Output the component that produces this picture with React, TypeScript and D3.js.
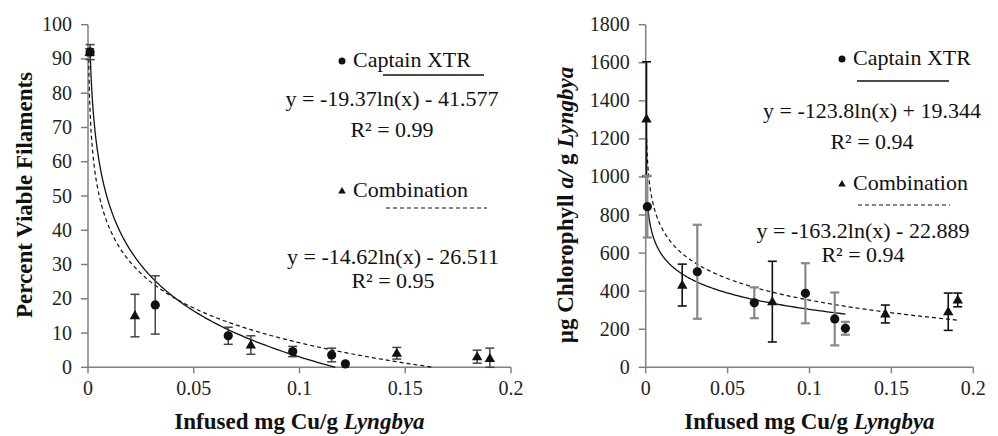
import React from 'react';
import * as d3 from 'd3';

// x axis (shared)
const xTicks = [0, 0.05, 0.1, 0.15, 0.2];
const xTickLabels = ['0', '0.05', '0.1', '0.15', '0.2'];

// left panel: percent viable filaments
const viableTicks = [0, 10, 20, 30, 40, 50, 60, 70, 80, 90, 100];
const viableCaptainX = [0.001, 0.0318, 0.0663, 0.0968, 0.1152, 0.1217];
const viableCaptainY = [92, 18.2, 9.2, 4.6, 3.6, 1.0];
const viableCaptainErr = [2.2, 8.5, 2.5, 1.5, 2.0, 0];
const viableComboX = [0.0008, 0.0222, 0.077, 0.146, 0.184, 0.19];
const viableComboY = [92, 15.1, 6.5, 4.1, 3.1, 2.6];
const viableComboErr = [1.0, 6.2, 2.7, 1.7, 1.9, 3.0];
// trendline y = a ln(x) + b, drawn over [from, to]
const viableCaptainFit = [-19.37, -41.577, 0.001, 0.1169];
const viableComboFit = [-14.62, -26.511, 0.0003, 0.163];

// right panel: chlorophyll a
const chlTicks = [0, 200, 400, 600, 800, 1000, 1200, 1400, 1600, 1800];
const chlCaptainX = [0.001, 0.0315, 0.0663, 0.0975, 0.1154, 0.1219];
const chlCaptainY = [844, 502, 339, 389, 254, 205];
const chlCaptainErr = [162, 247, 81, 158, 139, 34];
const chlComboX = [0.0005, 0.0223, 0.0773, 0.1463, 0.1847, 0.1905];
const chlComboY = [1305, 432, 345, 280, 292, 354];
const chlComboErr = [300, 110, 212, 47, 98, 36];
const chlCaptainFit = [-123.8, 19.344, 0.001, 0.122];
const chlComboFit = [-163.2, -22.889, 0.00055, 0.19];

const tickFont = { fontFamily: 'Liberation Serif', fontSize: '20px' };
const legendFont = { fontFamily: 'Liberation Serif', fontSize: '22px' };
const titleFont = { fontFamily: 'Liberation Serif', fontSize: '23px', fontWeight: 'bold' as const };

function fitPath(fit: number[], x: any, y: any) {
  const [a, b, from, to] = fit;
  const pts: [number, number][] = [];
  const n = 200;
  for (let i = 0; i <= n; i++) {
    const xv = Math.exp(Math.log(from) + (Math.log(to) - Math.log(from)) * i / n);
    pts.push([xv, a * Math.log(xv) + b]);
  }
  return d3.line().x(d => x(d[0])).y(d => y(Math.max(0, d[1])))(pts) || '';
}

function ErrorBars({ xs, ys, errs, x, y, color, width }: any) {
  return (
    <g stroke={color} strokeWidth={width}>
      {xs.map((xv: number, i: number) => {
        if (!errs[i]) return null;
        const cx = x(xv);
        const top = y(ys[i] + errs[i]);
        const bot = y(Math.max(0, ys[i] - errs[i]));
        return (
          <g key={i}>
            <line x1={cx} x2={cx} y1={top} y2={bot} />
            <line x1={cx - 4.5} x2={cx + 4.5} y1={top} y2={top} />
            <line x1={cx - 4.5} x2={cx + 4.5} y1={bot} y2={bot} />
          </g>
        );
      })}
    </g>
  );
}

function tri(cx: number, cy: number, s: number) {
  return `M${cx},${cy - s}L${cx + s * 0.95},${cy + s * 0.65}L${cx - s * 0.95},${cy + s * 0.65}Z`;
}

function Panel({ left, right, yMax, yTicks, capX, capY, capErr, comX, comY, comErr, capFit, comFit, capErrColor, comErrColor, capErrW, comErrW }: any) {
  const x = d3.scaleLinear().domain([0, 0.2]).range([left, right]);
  const y = d3.scaleLinear().domain([0, yMax]).range([367.3, 24.7]);
  const axisColor = '#808080';
  return (
    <g>
      {/* axes */}
      <line x1={left} x2={left} y1={y(yMax)} y2={y(0)} stroke={axisColor} strokeWidth={1.5} />
      <line x1={left} x2={right} y1={y(0)} y2={y(0)} stroke={axisColor} strokeWidth={1.5} />
      {yTicks.map((t: number) => (
        <g key={t}>
          <line x1={left - 7} x2={left} y1={y(t)} y2={y(t)} stroke={axisColor} strokeWidth={1.5} />
          <text x={left - 16} y={y(t) + 6.5} textAnchor="end" fill="#222" style={tickFont}>{t}</text>
        </g>
      ))}
      {xTicks.map((t, i) => (
        <g key={t}>
          <line x1={x(t)} x2={x(t)} y1={y(0)} y2={y(0) + 6} stroke={axisColor} strokeWidth={1.5} />
          <text x={x(t)} y={395} textAnchor="middle" fill="#222" style={tickFont}>{xTickLabels[i]}</text>
        </g>
      ))}
      {/* trendlines */}
      <path d={fitPath(capFit, x, y)} fill="none" stroke="#111" strokeWidth={1.3} />
      <path d={fitPath(comFit, x, y)} fill="none" stroke="#111" strokeWidth={1.2} strokeDasharray="4,3" />
      <ErrorBars xs={comX} ys={comY} errs={comErr} x={x} y={y} color={comErrColor} width={comErrW} />
      <ErrorBars xs={capX} ys={capY} errs={capErr} x={x} y={y} color={capErrColor} width={capErrW} />
      {comX.map((xv: number, i: number) => (
        <path key={'t' + i} d={tri(x(xv), y(comY[i]), 5.5)} fill="#111" />
      ))}
      {capX.map((xv: number, i: number) => (
        <circle key={'c' + i} cx={x(xv)} cy={y(capY[i])} r={4.6} fill="#111" />
      ))}
      <text x={(left + right) / 2} y={429} textAnchor="middle" fill="#111" style={titleFont}>
        Infused mg Cu/g <tspan fontStyle="italic">Lyngbya</tspan>
      </text>
    </g>
  );
}

function Legend({ bx, cy1, ln1, eq1, r1, cy2, ln2, eq2, r2, eqx1, eqx2 }: any) {
  return (
    <g fill="#111">
      <circle cx={bx} cy={cy1 - 6} r={3.5} />
      <text x={bx + 11} y={cy1} style={legendFont}>Captain XTR</text>
      <line x1={ln1[0]} x2={ln1[1]} y1={ln1[2]} y2={ln1[2]} stroke="#111" strokeWidth={1.3} />
      <text x={eqx1} y={eq1} textAnchor="middle" style={legendFont}>{r1[0]}</text>
      <text x={eqx1} y={eq1 + 31} textAnchor="middle" style={legendFont}>R² = {r1[1]}</text>
      <path d={tri(bx, cy2 - 6, 4)} />
      <text x={bx + 11} y={cy2} style={legendFont}>Combination</text>
      <line x1={ln2[0]} x2={ln2[1]} y1={ln2[2]} y2={ln2[2]} stroke="#111" strokeWidth={1.2} strokeDasharray="4,3" />
      <text x={eqx2} y={eq2} textAnchor="middle" style={legendFont}>{r2[0]}</text>
      <text x={eqx2} y={eq2 + 24} textAnchor="middle" style={legendFont}>R² = {r2[1]}</text>
    </g>
  );
}

export default function App() {
  return (
    <svg width={998} height={436} style={{ position: 'absolute', left: 0, top: 0, background: '#fff' }}>
      <rect width={998} height={436} fill="#fff" />
      <Panel left={88} right={511} yMax={100} yTicks={viableTicks}
        capX={viableCaptainX} capY={viableCaptainY} capErr={viableCaptainErr}
        comX={viableComboX} comY={viableComboY} comErr={viableComboErr}
        capFit={viableCaptainFit} comFit={viableComboFit}
        capErrColor="#444" comErrColor="#444" capErrW={1.5} comErrW={1.5} />
      <Panel left={645.7} right={973.3} yMax={1800} yTicks={chlTicks}
        capX={chlCaptainX} capY={chlCaptainY} capErr={chlCaptainErr}
        comX={chlComboX} comY={chlComboY} comErr={chlComboErr}
        capFit={chlCaptainFit} comFit={chlComboFit}
        capErrColor="#888" comErrColor="#111" capErrW={2.2} comErrW={1.6} />
      <text transform="translate(32,195) rotate(-90)" textAnchor="middle" fill="#111" style={titleFont}>
        Percent Viable Filaments
      </text>
      <text transform="translate(573,205) rotate(-90)" textAnchor="middle" fill="#111" style={titleFont}>
        µg Chlorophyll <tspan fontStyle="italic">a/</tspan> g <tspan fontStyle="italic">Lyngbya</tspan>
      </text>
      <Legend bx={342} cy1={67} ln1={[383, 484, 75]} eqx1={392} eq1={106} r1={['y = -19.37ln(x) - 41.577', '0.99']}
        cy2={197} ln2={[386, 487, 208]} eqx2={393} eq2={264} r2={['y = -14.62ln(x) - 26.511', '0.95']} />
      <Legend bx={842} cy1={65} ln1={[857, 949, 81]} eqx1={872} eq1={118} r1={['y = -123.8ln(x) + 19.344', '0.94']}
        cy2={190} ln2={[858, 950, 205]} eqx2={863} eq2={238} r2={['y = -163.2ln(x) - 22.889', '0.94']} />
    </svg>
  );
}
